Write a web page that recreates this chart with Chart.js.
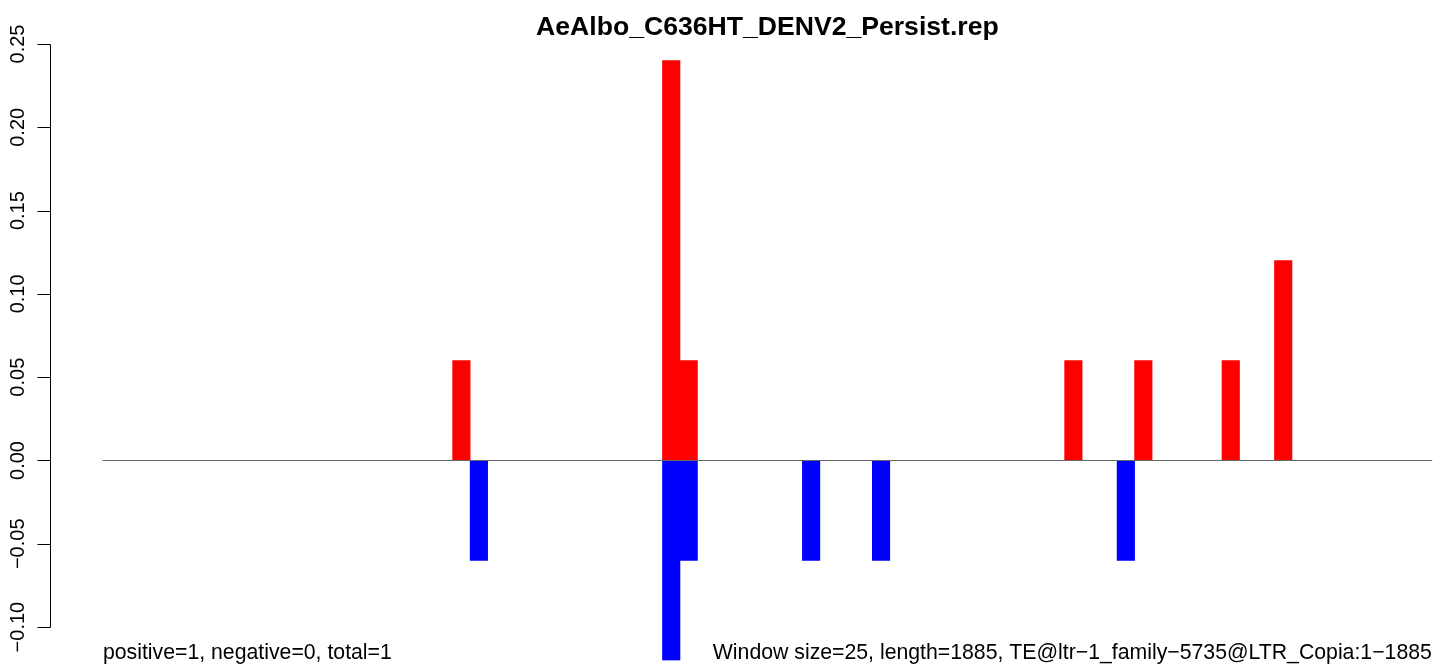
<!DOCTYPE html>
<html>
<head>
<meta charset="utf-8">
<script src="https://cdn.jsdelivr.net/npm/chart.js@4.4.1/dist/chart.umd.min.js"></script>
<style>
  html, body { margin: 0; padding: 0; background: #fff; overflow: hidden; }
  #wrap { width: 1530px; height: 664px; position: relative; }
</style>
</head>
<body>
<div id="wrap"><canvas id="c" width="1530" height="664"></canvas></div>
<script>
// ---- data (76 windows of 25 bp over length 1885) ----
const titleText = "AeAlbo_C636HT_DENV2_Persist.rep";
const leftNote = "positive=1, negative=0, total=1";
const rightNote = "Window size=25, length=1885, TE@ltr\u22121_family\u22125735@LTR_Copia:1\u22121885";
const windowCount = 76;
const positiveValues = [
  0,0,0,0,0,0,0,0,0,0, 0,0,0,0,0,0,0,0,0,0,
  0.06,0,0,0,0,0,0,0,0,0, 0,0,0.24,0.06,0,0,0,0,0,0,
  0,0,0,0,0,0,0,0,0,0, 0,0,0,0,0,0.06,0,0,0,0.06,
  0,0,0,0,0.06,0,0,0.12,0,0, 0,0,0,0,0,0
];
const negativeValues = [
  0,0,0,0,0,0,0,0,0,0, 0,0,0,0,0,0,0,0,0,0,
  0,-0.06,0,0,0,0,0,0,0,0, 0,0,-0.12,-0.06,0,0,0,0,0,0,
  -0.06,0,0,0,-0.06,0,0,0,0,0, 0,0,0,0,0,0,0,0,-0.06,0,
  0,0,0,0,0,0,0,0,0,0, 0,0,0,0,0,0
];
const yTickValues = [-0.10, -0.05, 0.00, 0.05, 0.10, 0.15, 0.20, 0.25];
const yTickLabels = ["\u22120.10", "\u22120.05", "0.00", "0.05", "0.10", "0.15", "0.20", "0.25"];

const toPoints = vals => vals.map((v, i) => ({ x: i + 0.5, y: v }));

const rStyle = {
  id: 'rStyle',
  afterDatasetsDraw(chart) {
    const ctx = chart.ctx;
    const xs = chart.scales.x, ys = chart.scales.y;
    ctx.save();
    const y0 = Math.round(ys.getPixelForValue(0)) + 0.5;
    ctx.strokeStyle = '#666666';
    ctx.lineWidth = 1;
    ctx.beginPath();
    ctx.moveTo(xs.getPixelForValue(0), y0);
    ctx.lineTo(xs.getPixelForValue(windowCount), y0);
    ctx.stroke();
    ctx.restore();
  },
  afterDraw(chart) {
    const ctx = chart.ctx;
    const xs = chart.scales.x, ys = chart.scales.y;
    const ca = chart.chartArea;
    ctx.save();
    const ax = Math.round(ca.left) + 0.5;
    ctx.strokeStyle = '#000';
    ctx.lineWidth = 1;
    ctx.beginPath();
    ctx.moveTo(ax, Math.round(ys.getPixelForValue(yTickValues[yTickValues.length - 1])) + 0.5);
    ctx.lineTo(ax, Math.round(ys.getPixelForValue(yTickValues[0])) + 0.5);
    yTickValues.forEach(v => {
      const py = Math.round(ys.getPixelForValue(v)) + 0.5;
      ctx.moveTo(ax - 13, py);
      ctx.lineTo(ax, py);
    });
    ctx.stroke();
    ctx.fillStyle = '#000';
    ctx.font = '20px "Liberation Sans", Arial, sans-serif';
    ctx.textAlign = 'center';
    ctx.textBaseline = 'alphabetic';
    yTickValues.forEach((v, i) => {
      const py = ys.getPixelForValue(v);
      ctx.save();
      ctx.translate(24, py);
      ctx.rotate(-Math.PI / 2);
      ctx.fillText(yTickLabels[i], 0, 0);
      ctx.restore();
    });
    ctx.font = 'bold 26.6px "Liberation Sans", Arial, sans-serif';
    ctx.textAlign = 'center';
    ctx.textBaseline = 'alphabetic';
    ctx.fillText(titleText, (ca.left + ca.right) / 2, 35);
    ctx.font = '21.25px "Liberation Sans", Arial, sans-serif';
    ctx.textAlign = 'left';
    ctx.fillText(leftNote, xs.getPixelForValue(0), 659);
    ctx.textAlign = 'right';
    ctx.fillText(rightNote, xs.getPixelForValue(windowCount), 659);
    ctx.restore();
  }
};

new Chart(document.getElementById('c'), {
  type: 'bar',
  data: {
    datasets: [
      { label: 'positive', data: toPoints(positiveValues), backgroundColor: '#FF0000', borderWidth: 0,
        barPercentage: 1, categoryPercentage: 1 },
      { label: 'negative', data: toPoints(negativeValues), backgroundColor: '#0000FF', borderWidth: 0,
        barPercentage: 1, categoryPercentage: 1 }
    ]
  },
  options: {
    responsive: false,
    animation: false,
    devicePixelRatio: 1,
    layout: { padding: { left: 49.8, right: 45, top: 44, bottom: 3.6 } },
    plugins: { legend: { display: false }, tooltip: { enabled: false }, title: { display: false } },
    scales: {
      x: { type: 'linear', min: -3.04, max: 79.04, stacked: true, display: false, offset: false },
      y: { type: 'linear', min: -0.12, max: 0.25, stacked: false, display: false }
    }
  },
  plugins: [rStyle]
});
</script>
</body>
</html>
